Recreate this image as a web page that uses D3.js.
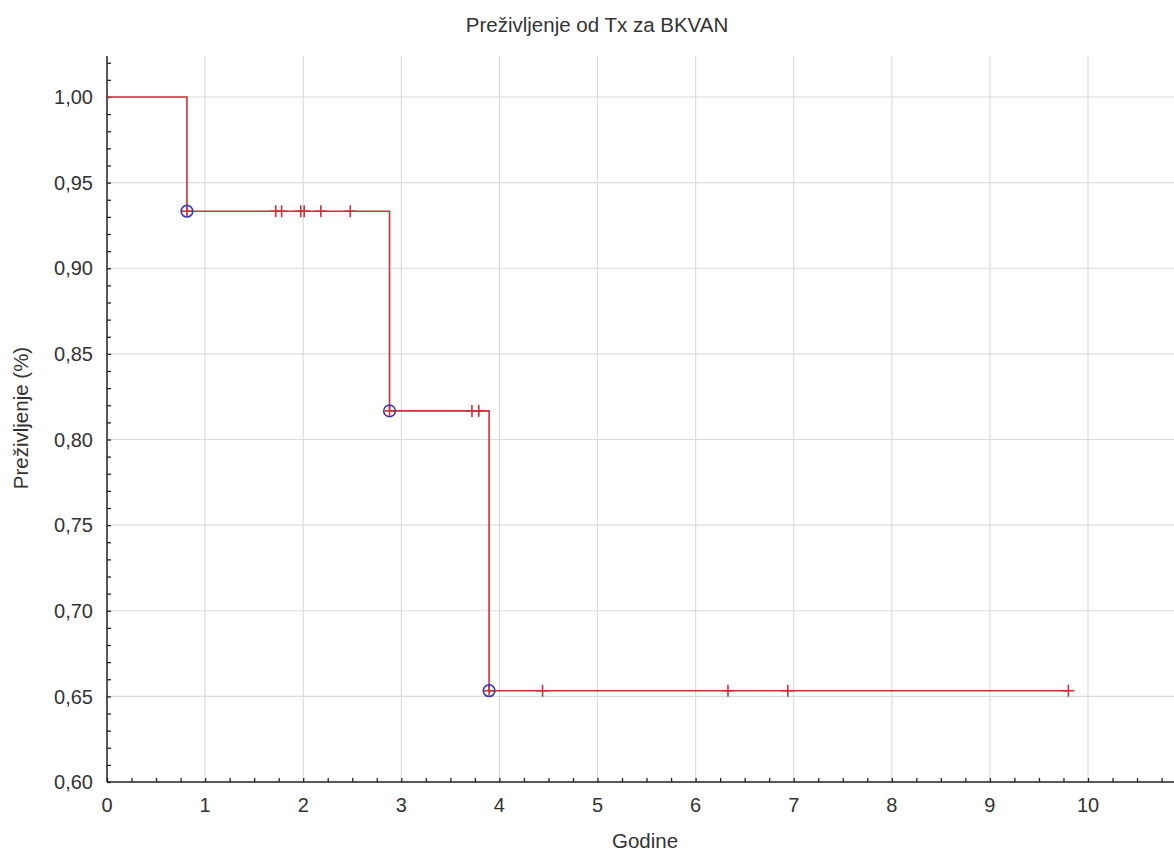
<!DOCTYPE html>
<html><head><meta charset="utf-8">
<script src="https://cdn.jsdelivr.net/npm/d3@7"></script>
<style>body{margin:0;background:#fff;} text{font-family:"Liberation Sans",Arial,sans-serif;fill:#333;}</style>
</head><body>
<svg id="chart" width="1174" height="852"></svg>
<script>
const titleText = "Preživljenje od Tx za BKVAN";
const xLabel = "Godine";
const yLabel = "Preživljenje (%)";
const xTicks = [0,1,2,3,4,5,6,7,8,9,10];
const yTicks = [0.60,0.65,0.70,0.75,0.80,0.85,0.90,0.95,1.00];
// Kaplan-Meier step curve
const stepTimes = [0, 0.815, 2.88, 3.895, 9.80];
const stepSurv  = [1.0, 0.9333, 0.8167, 0.6533, 0.6533];
// events (complete)
const eventTimes = [0.815, 2.88, 3.895];
const eventSurv  = [0.9333, 0.8167, 0.6533];
// censored observations
const censTimes = [1.72, 1.78, 1.975, 2.01, 2.18, 2.48, 3.72, 3.79, 4.44, 6.33, 6.94, 9.80];
const censSurv  = [0.9333,0.9333,0.9333,0.9333,0.9333,0.9333,0.8167,0.8167,0.6533,0.6533,0.6533,0.6533];

const svg = d3.select("#chart");
const x = d3.scaleLinear().domain([0,10]).range([107,1088]);
const y = d3.scaleLinear().domain([0.6,1.0]).range([782,97]);
const xMax = x.invert(1174), yMax = y.invert(56);
const fmt = v => d3.format(".2f")(v).replace(".", ",");
const red = "#c93236", blue = "#3a3ab0";

// grid
svg.append("g").selectAll("line").data(xTicks.slice(1)).join("line")
  .attr("x1", d=>x(d)).attr("x2", d=>x(d)).attr("y1", y(yMax)).attr("y2", y(0.6))
  .attr("stroke", "#dcdcdc").attr("stroke-width", 1.2);
svg.append("g").selectAll("line").data(yTicks.slice(1)).join("line")
  .attr("x1", x(0)).attr("x2", x(xMax)).attr("y1", d=>y(d)).attr("y2", d=>y(d))
  .attr("stroke", "#dcdcdc").attr("stroke-width", 1.2);

// axes
const xAxis = svg.append("g").attr("transform", `translate(0,${y(0.6)})`)
  .call(d3.axisBottom(x).tickValues(d3.range(0, xMax, 0.25)).tickSize(-4).tickFormat(""));
xAxis.select(".domain").attr("d", `M${x(0)},0H${x(xMax)}`).attr("stroke","#222").attr("stroke-width",1.5);
xAxis.selectAll(".tick line").attr("stroke","#222").attr("stroke-width",1.3);
svg.append("g").selectAll("text").data(xTicks).join("text")
  .attr("x", d=>x(d)).attr("y", 812).attr("text-anchor","middle")
  .style("font-size","20px").text(d=>d);

const yAxis = svg.append("g").attr("transform", `translate(${x(0)},0)`)
  .call(d3.axisLeft(y).tickValues(d3.range(0.60, yMax, 0.01)).tickSize(-4).tickFormat(""));
yAxis.select(".domain").attr("d", `M0,${y(0.6)}V${y(yMax)}`).attr("stroke","#222").attr("stroke-width",1.5);
yAxis.selectAll(".tick line").attr("stroke","#222").attr("stroke-width",1.3);
svg.append("g").selectAll("text").data(yTicks).join("text")
  .attr("x", 93).attr("y", d=>y(d)).attr("dy","0.36em").attr("text-anchor","end")
  .style("font-size","20px").text(fmt);

// step line
const pts = stepTimes.map((t,i)=>[t, stepSurv[i]]);
svg.append("path").datum(pts)
  .attr("d", d3.line().x(d=>x(d[0])).y(d=>y(d[1])).curve(d3.curveStepAfter))
  .attr("fill","none").attr("stroke", red).attr("stroke-width",1.6);

// censor marks
const cg = svg.append("g").attr("stroke", red).attr("stroke-width",1.6);
censTimes.forEach((t,i)=>{
  cg.append("line").attr("x1",x(t)).attr("x2",x(t)).attr("y1",y(censSurv[i])-6).attr("y2",y(censSurv[i])+6);
  cg.append("line").attr("x1",x(t)-6).attr("x2",x(t)+6).attr("y1",y(censSurv[i])).attr("y2",y(censSurv[i]));
});

// event markers
const eg = svg.append("g");
eventTimes.forEach((t,i)=>{
  const cx = x(t), cy = y(eventSurv[i]);
  eg.append("line").attr("x1",cx-5).attr("x2",cx+5).attr("y1",cy).attr("y2",cy).attr("stroke",red).attr("stroke-width",1.6);
  eg.append("line").attr("x1",cx).attr("x2",cx).attr("y1",cy-5).attr("y2",cy+5).attr("stroke",red).attr("stroke-width",1.6);
  eg.append("circle").attr("cx",cx).attr("cy",cy).attr("r",5.8).attr("fill","none").attr("stroke",blue).attr("stroke-width",1.6);
});

// titles
svg.append("text").attr("x", 597).attr("y", 32).attr("text-anchor","middle").style("font-size","20.5px").text(titleText);
svg.append("text").attr("x", 645).attr("y", 848).attr("text-anchor","middle").style("font-size","20.5px").text(xLabel);
svg.append("text").attr("transform","translate(28,418) rotate(-90)").attr("text-anchor","middle").style("font-size","20.5px").text(yLabel);
</script>
</body></html>
